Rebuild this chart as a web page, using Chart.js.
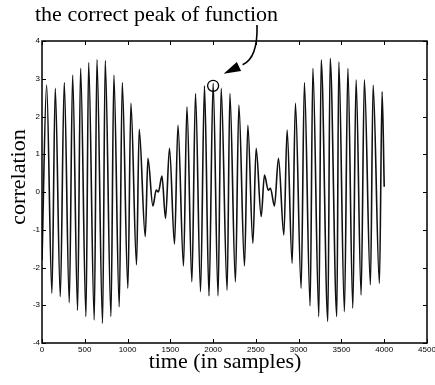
<!DOCTYPE html>
<html><head><meta charset="utf-8">
<script src="https://cdn.jsdelivr.net/npm/chart.js@4/dist/chart.umd.min.js"></script>
<style>html,body{margin:0;padding:0;background:#fff;}#wrap{width:435px;height:385px;}</style>
</head><body><div id="wrap"><canvas id="c" width="435" height="385"></canvas></div>
<script>
// ---- data (extrema of the correlation curve) ----
const sampleIdx = [0, 54, 116, 155, 214, 260, 319, 358, 416, 451, 514, 545, 611, 642, 708, 739, 806, 840, 903, 938,
  1004, 1039, 1105, 1136, 1207, 1238, 1296, 1335, 1360, 1402, 1444, 1490, 1549, 1589, 1654, 1694, 1752, 1794, 1853, 1899,
  1952, 2000, 2058, 2094, 2164, 2196, 2261, 2301, 2367, 2406, 2465, 2503, 2562, 2600, 2645, 2670, 2717, 2764, 2827, 2865,
  2924, 2962, 3029, 3067, 3134, 3166, 3236, 3263, 3341, 3368, 3446, 3469, 3535, 3575, 3633, 3671, 3730, 3768, 3839, 3870,
  3944, 3975, 4000];
const corrValues = [-1.8, 2.83, -2.68, 2.75, -2.77, 2.9, -2.93, 3.1, -3.14, 3.28, -3.30, 3.43, -3.39, 3.51, -3.48, 3.48, -3.30, 3.1, -3.04, 2.9,
  -2.55, 2.35, -1.93, 1.66, -1.18, 0.89, -0.37, 0.05, 0.0, 0.42, -0.70, 1.16, -1.38, 1.77, -1.96, 2.26, -2.38, 2.61, -2.64, 2.81,
  -2.75, 2.88, -2.75, 2.75, -2.6, 2.61, -2.38, 2.3, -1.96, 1.77, -1.36, 1.16, -0.65, 0.45, 0.05, 0.1, -0.37, 0.89, -1.14, 1.64,
  -1.89, 2.35, -2.55, 2.9, -3.02, 3.28, -3.30, 3.5, -3.43, 3.54, -3.30, 3.45, -3.17, 3.28, -3.08, 2.97, -2.73, 2.97, -2.46, 2.83,
  -2.42, 2.66, 0.14];
const xTickValues = [0, 500, 1000, 1500, 2000, 2500, 3000, 3500, 4000, 4500];
const yTickValues = [-4, -3, -2, -1, 0, 1, 2, 3, 4];
const annotationText = 'the correct peak of function';
const xAxisTitle = 'time (in samples)';
const yAxisTitle = 'correlation';
const peakSample = 2000;
const peakValue = 2.88;

const points = sampleIdx.map((s, i) => ({x: s, y: corrValues[i]}));

const decor = {
  id: 'decor',
  afterDraw(chart) {
    const ctx = chart.ctx;
    const a = chart.chartArea;
    const xs = chart.scales.x, ys = chart.scales.y;
    ctx.save();
    ctx.strokeStyle = '#000';
    ctx.fillStyle = '#000';
    // frame
    ctx.lineWidth = 1.5;
    ctx.strokeRect(a.left, a.top, a.right - a.left, a.bottom - a.top);
    // inward ticks
    ctx.lineWidth = 1;
    ctx.beginPath();
    xTickValues.forEach(v => {
      const p = Math.round(xs.getPixelForValue(v)) + 0.5;
      ctx.moveTo(p, a.bottom); ctx.lineTo(p, a.bottom - 4);
      ctx.moveTo(p, a.top); ctx.lineTo(p, a.top + 4);
    });
    yTickValues.forEach(v => {
      const p = Math.round(ys.getPixelForValue(v)) + 0.5;
      ctx.moveTo(a.left, p); ctx.lineTo(a.left + 4, p);
      ctx.moveTo(a.right, p); ctx.lineTo(a.right - 4, p);
    });
    ctx.stroke();
    // circle around the correct peak
    const cx = xs.getPixelForValue(peakSample), cy = ys.getPixelForValue(peakValue) + 2.5;
    ctx.lineWidth = 1.3;
    ctx.beginPath(); ctx.arc(cx, cy, 5.5, 0, Math.PI * 2); ctx.stroke();
    // curved arrow
    const tipX = cx + 10.5, tipY = cy - 12;
    const bx = tipX + 19, by = tipY - 9;
    ctx.lineWidth = 1.6;
    ctx.beginPath(); ctx.moveTo(257, 25); ctx.quadraticCurveTo(258, 58, bx, by); ctx.stroke();
    const dx = tipX - bx, dy = tipY - by, L = Math.hypot(dx, dy);
    const ux = dx / L, uy = dy / L;
    const hb = {x: tipX - ux * 17, y: tipY - uy * 17};
    ctx.beginPath();
    ctx.moveTo(tipX, tipY);
    ctx.lineTo(hb.x - uy * 5, hb.y + ux * 5);
    ctx.lineTo(hb.x + uy * 5, hb.y - ux * 5);
    ctx.closePath(); ctx.fill();
    // texts
    ctx.font = '22px "Liberation Serif", "Times New Roman", serif';
    ctx.textBaseline = 'alphabetic';
    ctx.textAlign = 'left';
    ctx.fillText(annotationText, 35, 20.5);
    ctx.textAlign = 'center';
    ctx.fillText(xAxisTitle, 225, 368);
    ctx.translate(25, 177);
    ctx.rotate(-Math.PI / 2);
    ctx.fillText(yAxisTitle, 0, 0);
    ctx.restore();
  }
};

const tickFont = {size: 8, family: '"Liberation Sans", Arial, sans-serif'};

new Chart(document.getElementById('c'), {
  type: 'line',
  data: {
    datasets: [{
      data: points,
      borderColor: '#111',
      borderWidth: 1.6,
      pointRadius: 0,
      fill: false,
      cubicInterpolationMode: 'monotone'
    }]
  },
  options: {
    responsive: false,
    animation: false,
    devicePixelRatio: 1,
    layout: {padding: {top: 41, right: 8, left: 0, bottom: 0}},
    plugins: {legend: {display: false}, tooltip: {enabled: false}, title: {display: false}},
    scales: {
      x: {
        type: 'linear', min: 0, max: 4500,
        afterBuildTicks: s => { s.ticks = xTickValues.map(v => ({value: v})); },
        afterFit: s => { s.height = 42; s.paddingLeft = 0; s.paddingRight = 0; },
        grid: {display: false, drawTicks: false}, border: {display: false},
        ticks: {font: tickFont, color: '#000', padding: 2, maxRotation: 0, autoSkip: false,
          callback: v => String(v)}
      },
      y: {
        type: 'linear', min: -4, max: 4,
        afterBuildTicks: s => { s.ticks = yTickValues.map(v => ({value: v})); },
        afterFit: s => { s.width = 42; s.paddingTop = 0; s.paddingBottom = 0; },
        grid: {display: false, drawTicks: false}, border: {display: false},
        ticks: {font: tickFont, color: '#000', padding: 2, autoSkip: false,
          callback: v => String(v)}
      }
    }
  },
  plugins: [decor]
});
</script></body></html>
